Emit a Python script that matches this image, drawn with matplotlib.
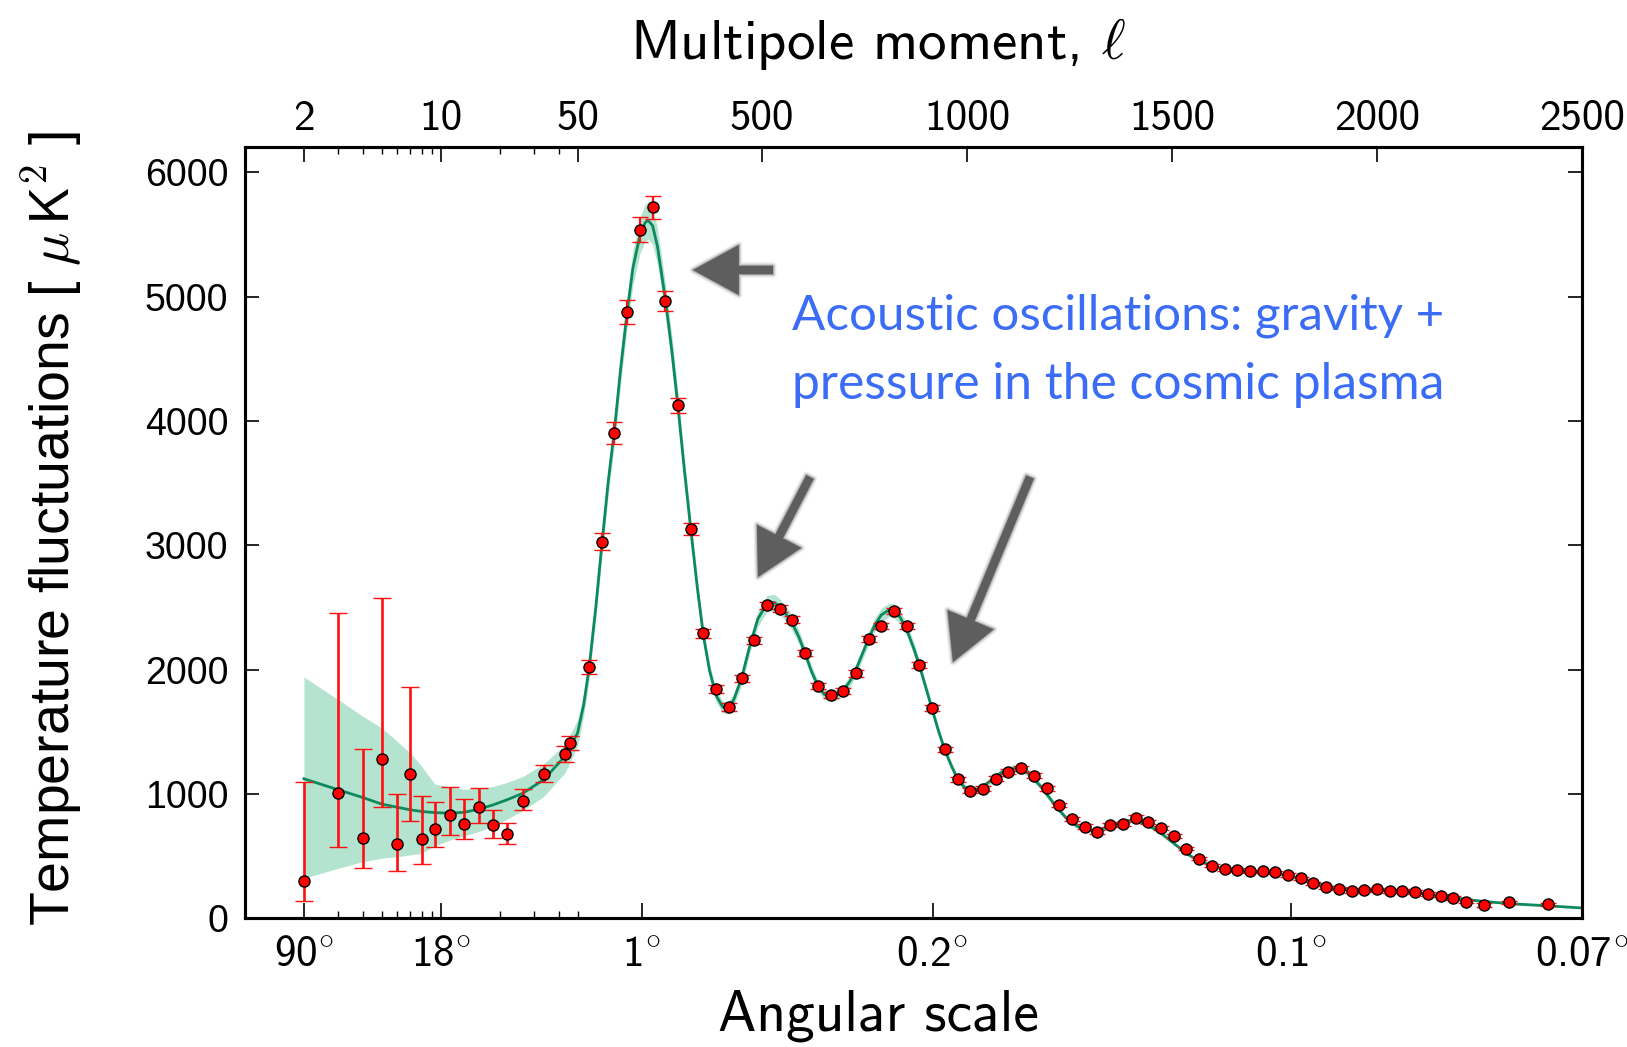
import numpy as np
import matplotlib
matplotlib.use('Agg')
import matplotlib.pyplot as plt
from matplotlib.patches import FancyArrowPatch

plt.rcParams['font.family'] = ['cmss10', 'DejaVu Sans']
plt.rcParams['mathtext.fontset'] = 'cm'
plt.rcParams['axes.unicode_minus'] = False

# low-ell points (log part of the axis): centre, lower end, upper end of the bar
ell_low = [2, 3, 4, 5, 6, 7, 8, 9.3, 11.2, 13.2, 15.6, 18.5, 21.8, 26.3, 33.5, 43, 45.5]
dl_low = [300, 1006, 649, 1285, 598, 1164, 641, 717, 832, 757, 894, 751, 679, 947, 1162, 1320, 1411]
dl_low_min = [142, 577, 408, 899, 381, 783, 435, 571, 668, 636, 767, 649, 598, 867, 1095, 1256, 1355]
dl_low_max = [1100, 2456, 1363, 2576, 998, 1862, 985, 936, 1052, 961, 1049, 872, 765, 1041, 1229, 1387, 1462]

# high-ell binned points (linear part)
ell_high = [78, 109, 140, 171, 202, 233, 264, 295, 326, 357,
            388, 419, 450, 481, 512, 543, 574, 605, 636, 667,
            698, 729, 760, 791, 822, 853, 884, 915, 946, 977,
            1008, 1039, 1070, 1101, 1132, 1163, 1194, 1225, 1256, 1287,
            1318, 1349, 1380, 1411, 1442, 1473, 1504, 1535, 1566, 1597,
            1628, 1659, 1690, 1721, 1752, 1783, 1814, 1845, 1876, 1907,
            1938, 1969, 2000, 2031, 2062, 2093, 2124, 2155, 2186, 2218,
            2262, 2323, 2418]
dl_high = [2020, 3030, 3905, 4879, 5536, 5716, 4965, 4125, 3132, 2292,
           1844, 1699, 1929, 2235, 2517, 2490, 2402, 2134, 1870, 1798,
           1830, 1969, 2243, 2353, 2474, 2348, 2039, 1691, 1360, 1120,
           1025, 1040, 1121, 1180, 1207, 1146, 1046, 912, 799, 738,
           692, 751, 756, 810, 773, 730, 665, 561, 480, 424,
           394, 389, 378, 378, 370, 349, 322, 281, 249, 238,
           220, 228, 233, 217, 222, 212, 196, 182, 163, 134,
           107, 128, 112]
err_high = [55, 70, 87, 97, 100, 94, 80, 63, 46, 38,
            32, 30, 30, 30, 30, 30, 28, 27, 26, 25,
            25, 25, 25, 25, 25, 24, 23, 22, 21, 20,
            20, 20, 20, 20, 20, 19, 19, 18, 18, 18,
            17, 17, 17, 17, 16, 16, 16, 15, 15, 15,
            14, 14, 14, 14, 14, 13, 13, 13, 13, 13,
            13, 13, 13, 13, 13, 13, 13, 13, 13, 14,
            15, 15, 15]

# best-fit model and its band, low ell (band given as min / max)
ell_mod_low = [2, 3, 4, 5, 6, 7, 8, 9.3, 11.2, 13.2, 15.6, 18.5, 21.8, 26.3, 33.5, 43, 50]
dl_mod_low = [1122, 1033, 971, 918, 893, 872, 859, 850, 845, 853, 877, 912, 953, 1006, 1114, 1301, 1490]
band_min_low = [322, 402, 456, 483, 496, 510, 523, 582, 630, 663, 698, 738, 797, 867, 979, 1167, 1382]
band_max_low = [1940, 1758, 1624, 1530, 1422, 1328, 1221, 1080, 1055, 1038, 1046, 1060, 1092, 1140, 1242, 1395, 1597]

# model, high ell (band given as half width)
ell_mod_high = [65, 78, 95, 109, 125, 140, 155, 171, 185, 202,
                215, 222, 233, 245, 264, 280, 295, 310, 326, 342,
                357, 372, 388, 404, 415, 430, 450, 470, 490, 512,
                530, 545, 560, 574, 590, 605, 620, 636, 652, 667,
                685, 698, 715, 729, 745, 760, 775, 791, 810, 822,
                837, 853, 870, 884, 900, 915, 930, 946, 962, 977,
                993, 1008, 1024, 1039, 1055, 1070, 1085, 1101, 1117, 1132,
                1148, 1163, 1180, 1194, 1210, 1226, 1241, 1256, 1272, 1288,
                1303, 1319, 1335, 1350, 1366, 1381, 1397, 1412, 1428, 1443,
                1459, 1473, 1490, 1505, 1520, 1535, 1550, 1566, 1598, 1628,
                1659, 1690, 1721, 1753, 1784, 1814, 1845, 1876, 1907, 1938,
                1969, 2000, 2031, 2062, 2094, 2124, 2155, 2186, 2221, 2262,
                2323, 2418, 2500]
dl_mod_high = [1720, 2010, 2520, 3000, 3520, 3930, 4420, 4880, 5230, 5490,
               5595, 5612, 5570, 5400, 4980, 4560, 4110, 3620, 3130, 2660,
               2270, 1990, 1790, 1700, 1690, 1750, 1930, 2190, 2410, 2530,
               2540, 2500, 2440, 2370, 2260, 2130, 1990, 1870, 1800, 1785,
               1800, 1830, 1910, 2000, 2130, 2250, 2360, 2440, 2480, 2470,
               2420, 2320, 2170, 2030, 1850, 1680, 1510, 1350, 1225, 1120,
               1055, 1030, 1035, 1060, 1100, 1140, 1175, 1195, 1205, 1198,
               1170, 1120, 1060, 1000, 930, 865, 810, 768, 735, 715,
               705, 710, 725, 745, 765, 780, 787, 785, 768, 745,
               715, 685, 640, 600, 560, 522, 492, 465, 420, 396,
               385, 378, 372, 362, 345, 320, 290, 260, 242, 230,
               226, 225, 220, 214, 205, 193, 180, 166, 150, 135,
               118, 100, 83]
band_half_high = [90, 90, 95, 100, 105, 110, 120, 130, 140, 145,
                  150, 150, 150, 145, 135, 125, 115, 100, 90, 75,
                  65, 55, 50, 48, 48, 50, 55, 60, 62, 65,
                  65, 64, 62, 60, 55, 50, 46, 44, 42, 42,
                  42, 43, 45, 47, 50, 52, 54, 55, 55, 55,
                  54, 52, 48, 45, 42, 38, 35, 32, 30, 28,
                  27, 26, 26, 26, 27, 28, 28, 28, 28, 28,
                  27, 26, 25, 24, 22, 21, 20, 19, 18, 18,
                  18, 18, 18, 18, 18, 18, 18, 18, 17, 17,
                  16, 16, 15, 15, 14, 13, 12, 12, 11, 10,
                  10, 10, 10, 9, 9, 9, 8, 8, 8, 8,
                  8, 8, 8, 7, 7, 7, 7, 7, 6, 6,
                  6, 5, 5]

ell_ticks_top = [2, 10, 50, 500, 1000, 1500, 2000, 2500]
ell_minor = [3, 4, 5, 6, 7, 8, 9, 20, 30, 40]
angle_pos = [2, 10, 206, 916, 1790, 2500]
angle_labels = ['90', '18', '1', '0.2', '0.1', '0.07']
y_ticks = [0, 1000, 2000, 3000, 4000, 5000, 6000]

# log for ell < 50, linear above
K = 477.5
def fwd(l):
    l = np.asarray(l, dtype=float)
    return np.where(l < 50, 50 + K * np.log10(np.maximum(l, 1e-6) / 50.0), l)

def inv(u):
    u = np.asarray(u, dtype=float)
    return np.where(u < 50, 50.0 * 10 ** ((u - 50) / K), u)

W, H = 1627, 1047
fig = plt.figure(figsize=(W / 100, H / 100), dpi=100)
ax = fig.add_axes([245 / W, 1 - 918.3 / H, (1582 - 245) / W, (918.3 - 147.3) / H])

ell_mod = ell_mod_low + ell_mod_high
dl_mod = dl_mod_low + dl_mod_high
band_lo = band_min_low + [c - h for c, h in zip(dl_mod_high, band_half_high)]
band_hi = band_max_low + [c + h for c, h in zip(dl_mod_high, band_half_high)]

ax.fill_between(ell_mod, band_lo, band_hi, color='#b4e4cf', lw=0, zorder=1)
ax.plot(ell_mod, dl_mod, color='#0d8a5c', lw=2.0, zorder=2)

low_err = [[c - a for c, a in zip(dl_low, dl_low_min)],
           [b - c for c, b in zip(dl_low, dl_low_max)]]
ax.errorbar(ell_low, dl_low, yerr=low_err, fmt='o', ms=8, mfc='#ff0000', mec='black',
            mew=1.0, ecolor='#ff1010', elinewidth=1.9, capsize=6.5, capthick=1.9, zorder=3)
ax.errorbar(ell_high, dl_high, yerr=err_high, fmt='o', ms=8, mfc='#ff0000', mec='black',
            mew=1.0, ecolor='#ff1010', elinewidth=1.6, capsize=5.5, capthick=1.6, zorder=3)

ax.set_xscale('function', functions=(fwd, inv))
ax.set_xlim(1, 2500)
ax.set_ylim(0, 6200)

ax.set_xticks(angle_pos)
ax.set_xticklabels([a + r'$^{\circ}$' for a in angle_labels])
ax.set_xticks(ell_minor + [50], minor=True)
ax.set_yticks(y_ticks)
ax.tick_params(axis='x', which='both', direction='in', labelsize=31, pad=13)
ax.tick_params(axis='x', which='major', length=11, width=1.2)
ax.tick_params(axis='x', which='minor', length=5, width=1.0, labelbottom=False)
ax.tick_params(axis='y', direction='in', left=True, right=True, length=10, width=1.2,
               labelsize=30, pad=12)
for lab in ax.get_yticklabels():
    lab.set_family(['Liberation Sans', 'DejaVu Sans'])
    lab.set_fontsize(27)

ax2 = ax.twiny()
ax2.set_xscale('function', functions=(fwd, inv))
ax2.set_xlim(1, 2500)
ax2.set_xticks(ell_ticks_top)
ax2.set_xticklabels([str(t) for t in ell_ticks_top])
ax2.set_xticks(ell_minor, minor=True)
ax2.tick_params(axis='x', which='both', direction='in', labelsize=31, pad=7)
ax2.tick_params(axis='x', which='major', length=11, width=1.2)
ax2.tick_params(axis='x', which='minor', length=5, width=1.0, labeltop=False)

for a in (ax, ax2):
    for s in a.spines.values():
        s.set_linewidth(2.2)

fig.text(878 / W, 1 - 59 / H, r'Multipole moment, $\ell$', ha='center', va='baseline', fontsize=41)
fig.text(878 / W, 1 - 1030 / H, 'Angular scale', ha='center', va='baseline', fontsize=41.5)
fig.text(52 / W, 1 - 529 / H, r'Temperature fluctuations [ $\mu\,\mathsf{K}^{\mathsf{2}}$ ]',
         rotation=90, ha='center', va='center', fontsize=40,
         family=['Liberation Sans', 'DejaVu Sans'])

blue = '#3b6cf5'
fig.text(792 / W, 1 - 330 / H, 'Acoustic oscillations: gravity +', color=blue,
         fontsize=35.5, va='baseline', family=['Lato', 'DejaVu Sans'])
fig.text(792 / W, 1 - 399 / H, 'pressure in the cosmic plasma', color=blue,
         fontsize=35.8, va='baseline', family=['Lato', 'DejaVu Sans'])

# grey smudgy arrows (tail, tip) in pixels from the top-left
arrows = [((773, 270), (693, 270)), ((810, 477), (758, 577)), ((1030, 477), (953, 662))]
for (x0, y0), (x1, y1) in arrows:
    pA = (x0 / W, 1 - y0 / H)
    pB = (x1 / W, 1 - y1 / H)
    for lw, alpha in [(5, 0.12), (3, 0.2), (1.5, 0.35)]:
        fig.add_artist(FancyArrowPatch(pA, pB, transform=fig.transFigure,
                                       arrowstyle='simple,head_length=33,head_width=36,tail_width=6',
                                       mutation_scale=1, fc='#6a6a6a', ec='#6a6a6a',
                                       alpha=alpha, lw=lw, shrinkA=0, shrinkB=0))
    fig.add_artist(FancyArrowPatch(pA, pB, transform=fig.transFigure,
                                   arrowstyle='simple,head_length=33,head_width=36,tail_width=6',
                                   mutation_scale=1, color='#5e5e5e', lw=0,
                                   shrinkA=0, shrinkB=0))

fig.savefig('out.png', dpi=100)
